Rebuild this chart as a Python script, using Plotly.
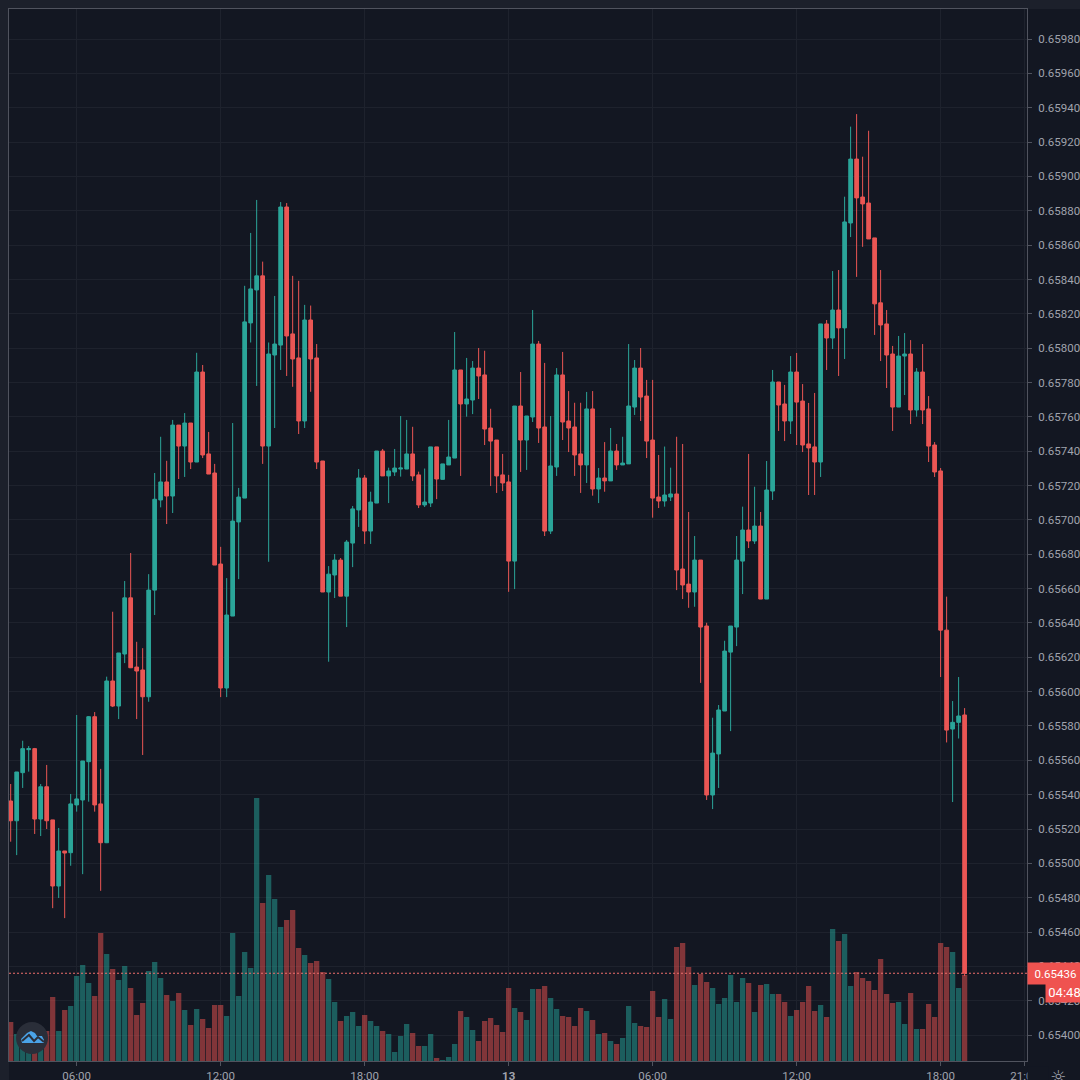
import pandas as pd
import plotly.graph_objects as go

open_ = [0.655363,0.655248,0.655528,0.655662,0.655668,0.655258,0.655446,0.655253,0.654868,0.655072,
0.655062,0.655340,0.655369,0.655592,0.655854,0.655346,0.655120,0.656062,0.655916,0.656219,
0.656546,0.656143,0.656126,0.655970,0.656591,0.657116,0.657221,0.657139,0.657552,0.657430,
0.657564,0.657337,0.657861,0.657384,0.657273,0.656743,0.656021,0.656440,0.656988,0.657127,
0.658147,0.658339,0.658421,0.657430,0.657960,0.658018,0.658822,0.658083,0.657943,0.657576,
0.658164,0.657943,0.657343,0.656580,0.656679,0.656766,0.656556,0.656865,0.657058,0.657244,
0.656935,0.657098,0.657401,0.657256,0.657279,0.657296,0.657296,0.657384,0.657262,0.657087,
0.657098,0.657425,0.657236,0.657320,0.657360,0.657873,0.657675,0.657698,0.657884,0.657844,
0.657535,0.657465,0.657262,0.657221,0.656760,0.657663,0.657465,0.657599,0.658024,0.657541,
0.656935,0.657308,0.657844,0.657576,0.657541,0.657384,0.657320,0.657646,0.657180,0.657244,
0.657227,0.657401,0.657320,0.657326,0.657657,0.657884,0.657721,0.657465,0.657133,0.657110,
0.657133,0.657151,0.656714,0.656626,0.656580,0.656766,0.656382,0.655398,0.655637,0.655887,
0.656230,0.656376,0.656760,0.656941,0.656877,0.656964,0.656539,0.657168,0.657803,0.657675,
0.657576,0.657861,0.657692,0.657442,0.657425,0.657337,0.658141,0.658059,0.658222,0.658118,
0.658729,0.659101,0.658880,0.658845,0.658642,0.658264,0.658141,0.657966,0.657657,0.657954,
0.657966,0.657640,0.657861,0.657646,0.657436,0.657285,0.656358,0.655782,0.655821,0.655864]
high = [0.655462,0.655532,0.655714,0.655683,0.655672,0.655462,0.655573,0.655253,0.655206,0.655072,
0.655404,0.655864,0.655596,0.655858,0.655881,0.655550,0.656087,0.656465,0.656225,0.656644,
0.656807,0.656290,0.656253,0.656684,0.657273,0.657484,0.657344,0.657582,0.657552,0.657622,
0.657564,0.657973,0.657902,0.657512,0.657326,0.656843,0.656661,0.657564,0.657186,0.658363,
0.658671,0.658863,0.658504,0.658033,0.658304,0.658851,0.658845,0.658421,0.658392,0.658252,
0.658248,0.658024,0.657343,0.656731,0.656801,0.656778,0.656883,0.657081,0.657296,0.657261,
0.657164,0.657401,0.657413,0.657304,0.657413,0.657605,0.657582,0.657542,0.657281,0.657299,
0.657425,0.657425,0.657326,0.657582,0.658094,0.657873,0.657943,0.657925,0.658001,0.657985,
0.657647,0.657465,0.657384,0.657262,0.657663,0.657861,0.657605,0.658222,0.658042,0.657914,
0.657605,0.657884,0.657978,0.657750,0.657682,0.657682,0.657745,0.657750,0.657302,0.657453,
0.657535,0.657442,0.657484,0.658024,0.657931,0.658001,0.657815,0.657815,0.657378,0.657427,
0.657304,0.657484,0.657442,0.657046,0.656906,0.656766,0.656401,0.655848,0.655922,0.656296,
0.656382,0.656906,0.657077,0.657384,0.657193,0.657046,0.657343,0.657873,0.657803,0.657786,
0.657954,0.657972,0.657791,0.657681,0.657739,0.658141,0.658164,0.658449,0.658455,0.658882,
0.659290,0.659363,0.659115,0.659266,0.658642,0.658455,0.658222,0.658013,0.658071,0.658088,
0.658047,0.657884,0.658024,0.657721,0.657453,0.657302,0.656553,0.655945,0.656085,0.655904]
low = [0.655126,0.655048,0.655439,0.655534,0.655171,0.655159,0.655200,0.654739,0.654798,0.654681,
0.654986,0.655301,0.654937,0.655359,0.655301,0.654840,0.655118,0.655910,0.655840,0.656166,
0.656137,0.655840,0.655631,0.655941,0.656446,0.657073,0.656976,0.657040,0.657238,0.657250,
0.657296,0.657337,0.657360,0.657267,0.656737,0.655968,0.655968,0.656440,0.656655,0.657127,
0.658033,0.657780,0.657326,0.656756,0.657535,0.657873,0.657838,0.657775,0.657500,0.657535,
0.657746,0.657296,0.656580,0.656174,0.656545,0.656556,0.656376,0.656725,0.656959,0.656860,
0.656860,0.657098,0.657256,0.657098,0.657256,0.657252,0.657296,0.657227,0.657069,0.657075,
0.657075,0.657121,0.657236,0.657320,0.657360,0.657256,0.657601,0.657616,0.657704,0.657436,
0.657197,0.657157,0.657168,0.656581,0.656597,0.657279,0.657291,0.657570,0.657448,0.656906,
0.656918,0.657256,0.657465,0.657395,0.657256,0.657157,0.657215,0.657141,0.657098,0.657164,
0.657227,0.657291,0.657320,0.657326,0.657611,0.657576,0.657360,0.657013,0.657069,0.657077,
0.657110,0.656591,0.656539,0.656488,0.656494,0.656051,0.655369,0.655316,0.655439,0.655887,
0.655770,0.656265,0.656568,0.656836,0.656860,0.656539,0.656539,0.657116,0.657518,0.657459,
0.657500,0.657436,0.657395,0.657145,0.657145,0.657250,0.657873,0.657995,0.657838,0.657937,
0.658647,0.658415,0.658590,0.658636,0.658077,0.657925,0.657768,0.657518,0.657657,0.657727,
0.657558,0.657601,0.657558,0.657337,0.657250,0.656085,0.655704,0.655357,0.655727,0.654344]
close = [0.655248,0.655532,0.655668,0.655668,0.655258,0.655446,0.655248,0.654868,0.655072,0.655060,
0.655346,0.655375,0.655596,0.655854,0.655340,0.655120,0.656062,0.655916,0.656225,0.656546,
0.656139,0.656120,0.655970,0.656591,0.657120,0.657221,0.657139,0.657552,0.657430,0.657564,
0.657337,0.657861,0.657378,0.657267,0.656737,0.656021,0.656446,0.656993,0.657133,0.658153,
0.658345,0.658421,0.657430,0.657966,0.658024,0.658822,0.658071,0.657937,0.657576,0.658164,
0.657937,0.657337,0.656580,0.656684,0.656766,0.656556,0.656871,0.657064,0.657244,0.656935,
0.657104,0.657401,0.657256,0.657285,0.657302,0.657302,0.657384,0.657256,0.657087,0.657104,
0.657425,0.657238,0.657326,0.657366,0.657873,0.657675,0.657704,0.657884,0.657838,0.657529,
0.657459,0.657256,0.657215,0.656760,0.657663,0.657465,0.657605,0.658024,0.657535,0.656935,
0.657314,0.657844,0.657570,0.657535,0.657378,0.657320,0.657646,0.657180,0.657244,0.657227,
0.657401,0.657320,0.657331,0.657663,0.657884,0.657715,0.657459,0.657127,0.657110,0.657145,
0.657151,0.656708,0.656621,0.656580,0.656766,0.656376,0.655398,0.655642,0.655893,0.656236,
0.656382,0.656766,0.656941,0.656877,0.656964,0.656539,0.657174,0.657803,0.657669,0.657576,
0.657861,0.657686,0.657436,0.657419,0.657337,0.658141,0.658059,0.658222,0.658118,0.658735,
0.659101,0.658875,0.658840,0.658636,0.658258,0.658135,0.657960,0.657657,0.657954,0.657966,
0.657640,0.657861,0.657640,0.657430,0.657279,0.656358,0.655776,0.655821,0.655858,0.654360]
volume = [39,27,24,20,25,22,30,64,30,51,55,85,96,78,65,128,107,92,81,95,
73,46,58,90,99,83,66,60,68,51,36,52,42,33,56,56,45,128,65,109,
93,263,158,186,162,134,141,151,113,106,98,100,89,82,59,40,45,49,35,46,
40,35,30,27,9,25,37,28,15,15,27,3,1,4,17,50,44,31,20,40,
43,36,29,73,53,49,41,72,72,75,63,52,45,44,35,53,50,41,27,28,
20,17,23,55,38,35,34,70,44,62,42,114,118,94,76,87,79,73,57,63,
86,59,83,78,49,76,77,67,67,59,45,51,59,75,50,56,44,132,120,127,
75,89,83,80,71,102,67,58,59,37,68,32,32,57,44,118,114,109,73,86]

start_time = "2020-03-12 03:15"
bar_minutes = 15
times = pd.date_range(start_time, periods=len(close), freq=f"{bar_minutes}min")

x_tick_times = ["2020-03-12 06:00","2020-03-12 12:00","2020-03-12 18:00","2020-03-13 00:00",
                "2020-03-13 06:00","2020-03-13 12:00","2020-03-13 18:00","2020-03-13 21:30"]
x_tick_text = ["06:00","12:00","18:00","<b>13</b>","06:00","12:00","18:00","21:00"]
y_ticks = [0.654 + 0.0002 * i for i in range(30)]
y_tick_text = [f"{v:.5f}" for v in y_ticks]
last_price = 0.65436

BG = "#131722"
EDGE = "#1c202b"
UP = "#2ba599"
DOWN = "#ea5654"
GRID = "#1e222d"
AXIS = "#50535e"
TEXT = "#a0a3ad"
FONT = "Roboto"

vol_colors = ["rgba(38,166,154,0.5)" if c >= o else "rgba(239,83,80,0.5)" for o, c in zip(open_, close)]

fig = go.Figure()
fig.add_trace(go.Candlestick(
    x=times, open=open_, high=high, low=low, close=close,
    increasing=dict(line=dict(color=UP, width=1), fillcolor=UP),
    decreasing=dict(line=dict(color=DOWN, width=1), fillcolor=DOWN),
    whiskerwidth=0, yaxis="y", showlegend=False))
fig.add_trace(go.Bar(x=times, y=volume, marker=dict(color=vol_colors, line_width=0),
                     yaxis="y2", showlegend=False))

fig.update_layout(
    width=1080, height=1080,
    margin=dict(l=9, r=53, t=9, b=19, autoexpand=False),
    paper_bgcolor=BG, plot_bgcolor=BG,
    font=dict(family=FONT, size=11.5, color=TEXT),
    bargap=0.12, boxgap=0.12,
    showlegend=False,
    xaxis=dict(type="date", range=["2020-03-12 03:10:48", "2020-03-13 21:36"],
               rangeslider=dict(visible=False),
               tickmode="array", tickvals=x_tick_times, ticktext=x_tick_text,
               showgrid=True, gridcolor=GRID, gridwidth=1,
               ticks="outside", ticklen=4, tickcolor=AXIS,
               showline=True, linecolor=AXIS, linewidth=1, mirror=True,
               zeroline=False, tickangle=0),
    yaxis=dict(side="right", range=[0.653849, 0.659975],
               tickmode="array", tickvals=y_ticks, ticktext=y_tick_text,
               showgrid=True, gridcolor=GRID, gridwidth=1,
               ticks="outside", ticklen=4, tickcolor=AXIS, ticklabelstandoff=4,
               showline=True, linecolor=AXIS, linewidth=1, mirror=True,
               zeroline=False),
    yaxis2=dict(overlaying="y", side="left", range=[0, 1052], visible=False),
    shapes=[
        dict(type="rect", xref="paper", yref="paper", x0=-0.0089, x1=0, y0=-0.0181, y1=1.0086,
             fillcolor=EDGE, line_width=0, layer="below"),
        dict(type="rect", xref="paper", yref="paper", x0=-0.0089, x1=1.0521, y0=1, y1=1.0086,
             fillcolor=EDGE, line_width=0, layer="below"),
        dict(type="line", xref="paper", x0=0, x1=1, yref="y", y0=last_price, y1=last_price,
             line=dict(color="#ef6f6c", width=1, dash="2px,2px"), layer="above"),
        dict(type="circle", xref="paper", yref="paper", x0=0.0069, x1=0.0383, y0=0.0067, y1=0.0371,
             fillcolor="#2a2e39", line_width=0, layer="above"),
        dict(type="path", xref="paper", yref="paper",
             path="M 0.0128 0.0171 L 0.0118 0.0209 L 0.0177 0.0266 L 0.0216 0.0285 L 0.0255 0.0266 "
                  "L 0.0275 0.0238 L 0.0324 0.0238 L 0.0344 0.0200 L 0.0344 0.0171 Z",
             fillcolor="#4aa3e8", line_width=0, layer="above"),
        dict(type="path", xref="paper", yref="paper",
             path="M 0.0128 0.0190 L 0.0196 0.0247 L 0.0246 0.0190 L 0.0285 0.0228 L 0.0344 0.0181",
             line=dict(color="#2a2e39", width=2), layer="above"),
    ],
    annotations=[
        dict(xref="paper", yref="paper", x=1.0, y=-0.0143, xanchor="left", yanchor="middle",
             text=" ", bgcolor=BG, width=18, height=16, showarrow=False),
        dict(xref="paper", yref="y", x=1.0, y=last_price, xanchor="left", yanchor="middle",
             text="0.65436", bgcolor="#ef5350", font=dict(color="#ffffff", size=11.5, family=FONT),
             width=53, height=19, align="center", showarrow=False),
        dict(xref="paper", yref="paper", x=1.0177, y=0.0656, xanchor="left", yanchor="middle",
             text="04:48", bgcolor="#ef5350", font=dict(color="#ffffff", size=13, family=FONT),
             width=35, height=18, align="center", showarrow=False),
        dict(xref="paper", yref="paper", x=1.0304, y=-0.0143, xanchor="center", yanchor="middle",
             text="\u263c", font=dict(color=TEXT, size=18, family="DejaVu Sans"), showarrow=False),
    ],
)

fig.write_html("out.html", config={"displayModeBar": False},
               post_script="document.body.style.margin='0';document.body.style.overflow='hidden';")
